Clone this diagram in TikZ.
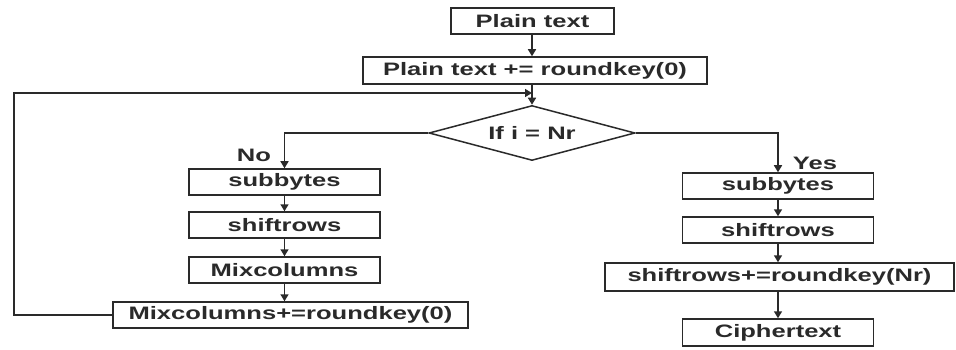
\documentclass[tikz,border=0pt]{standalone}
\usepackage{fontspec}
\usetikzlibrary{arrows.meta,shapes.geometric}
\newfontfamily\flowfont{Liberation Sans}[FakeStretch=1.42]
\definecolor{ink}{HTML}{2A2A2A}
\begin{document}
\begin{tikzpicture}[x=1pt,y=-1pt,
  every node/.style={font=\flowfont\bfseries\fontsize{18}{18}\selectfont, text=ink},
  stepbox/.style={draw=ink, line width=1.5pt, rectangle, inner sep=0pt,
    minimum height=26pt},
  decision/.style={draw=ink, line width=1.5pt, diamond, aspect=3.75,
    inner sep=0pt, minimum width=206pt, minimum height=55pt},
  arr/.style={draw=ink, line width=1.5pt, -{Triangle[length=7pt,width=8pt]}},
  lbl/.style={inner sep=0pt}]
\useasboundingbox (0,0) rectangle (956,350);
\fill[white] (0,0) rectangle (956,350);

% main column
\node[stepbox, minimum width=163pt] (pt) at (532.5,21) {Plain text};
\node[stepbox, minimum width=344pt, minimum height=27pt] (add0) at (535,70.5) {Plain text += roundkey(0)};
\node[decision] (dec) at (532,133) {If i = Nr};

% round branch (No)
\node[stepbox, minimum width=191pt] (sbL) at (284.5,182) {subbytes};
\node[stepbox, minimum width=191pt] (srL) at (284.5,225) {shiftrows};
\node[stepbox, minimum width=191pt] (mc) at (284.5,270) {Mixcolumns};
\node[stepbox, minimum width=355pt] (mcadd) at (290.5,315) {Mixcolumns+=roundkey(0)};

% final branch (Yes)
\node[stepbox, minimum width=191pt] (sbR) at (778,186) {subbytes};
\node[stepbox, minimum width=191pt] (srR) at (778,230) {shiftrows};
\node[stepbox, minimum width=349pt, minimum height=28pt] (addNr) at (779.5,277) {shiftrows+=roundkey(Nr)};
\node[stepbox, minimum width=191pt, minimum height=27pt] (ct) at (778,332.5) {Ciphertext};

% branch labels
\node[lbl] (no) at (254,155) {No};
\node[lbl] (yes) at (815,163) {Yes};

% loop-back points
\coordinate (join) at (532,93);
\coordinate (loopcorner) at (14,93);

% connectors
\draw[arr] (pt.south -| dec.north) -- (add0.north -| dec.north);
\draw[arr] (add0.south -| dec.north) -- (dec.north);
\draw[arr] (dec.west) -| (sbL.north);
\draw[arr] (sbL) -- (srL);
\draw[arr] (srL) -- (mc);
\draw[arr] (mc.south) -- (mc.south |- mcadd.north);
\draw[arr] (mcadd.west) -| (loopcorner) -- (join);
\draw[arr] (dec.east) -| (sbR.north);
\draw[arr] (sbR) -- (srR);
\draw[arr] (srR.south) -- (srR.south |- addNr.north);
\draw[arr] (addNr.south -| ct.north) -- (ct.north);
\end{tikzpicture}
\end{document}
